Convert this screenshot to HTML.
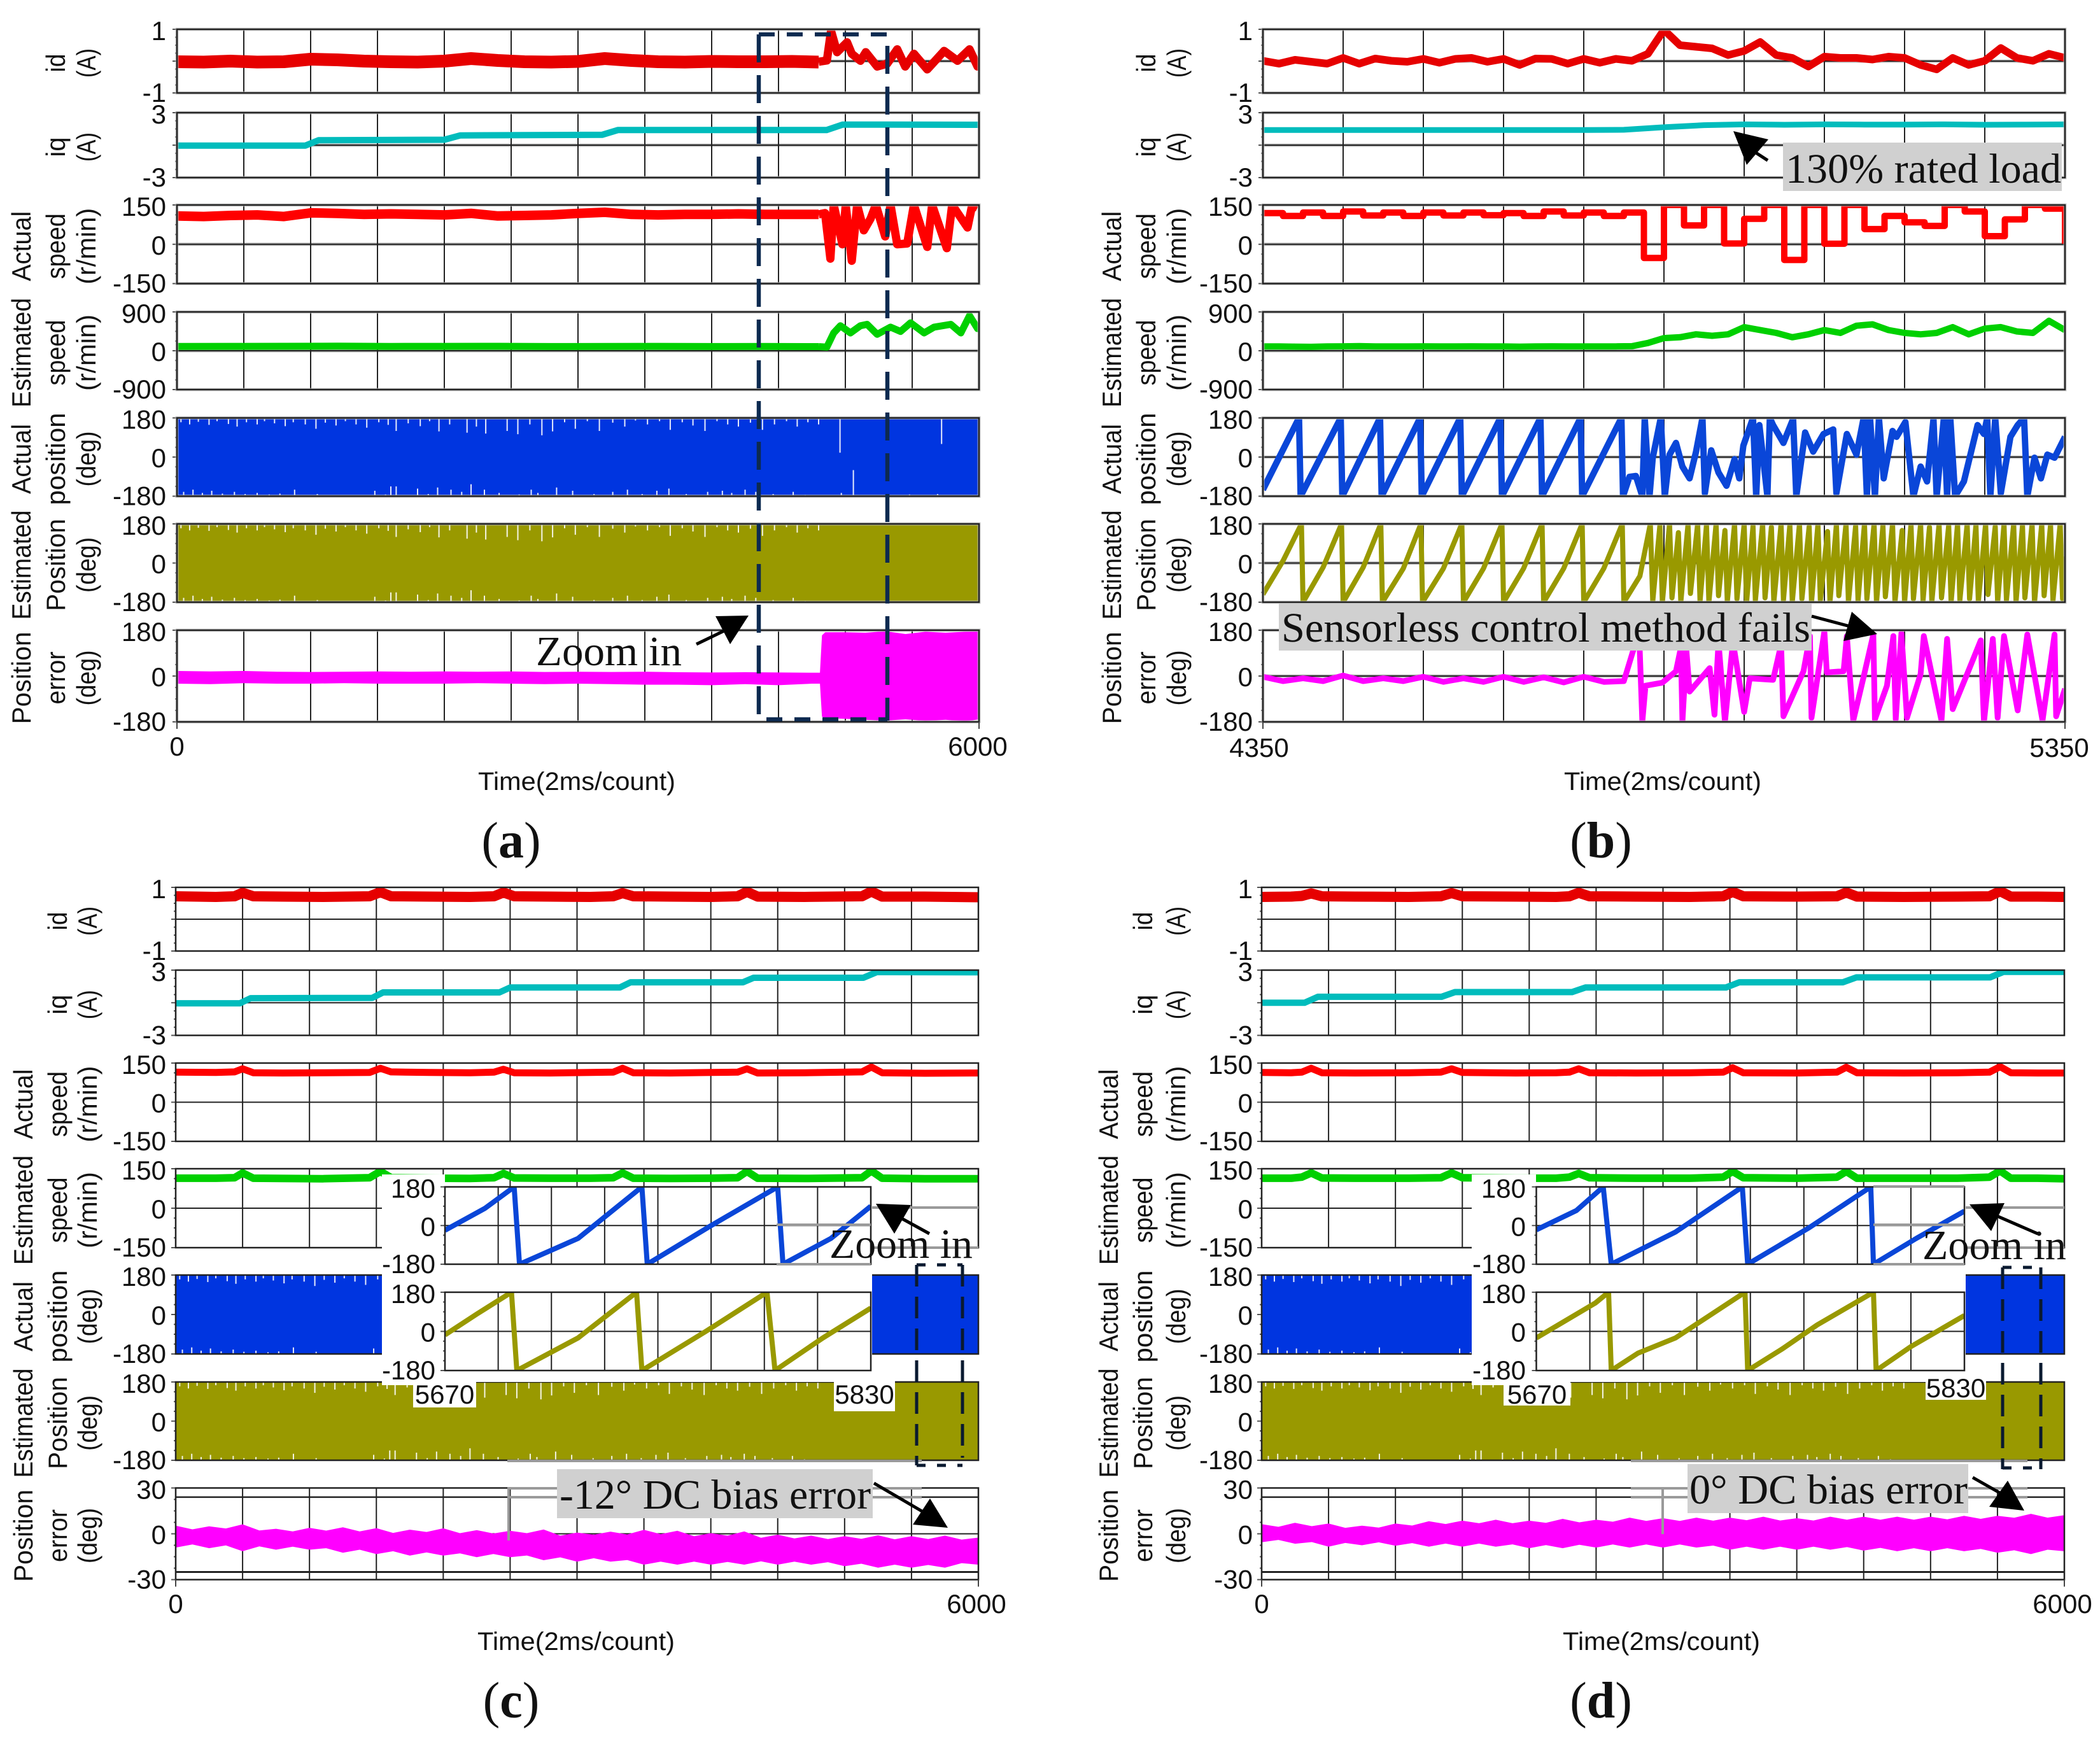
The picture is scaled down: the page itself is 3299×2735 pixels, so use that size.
<!DOCTYPE html>
<html lang="en">
<head>
<meta charset="utf-8">
<title>Sensorless control experimental waveforms</title>
<style>
html,body{margin:0;padding:0;background:#fff;}
svg{display:block;}
text{fill:#111;}
.sans{font-family:"Liberation Sans",sans-serif;}
.serif{font-family:"Liberation Serif",serif;}
</style>
</head>
<body>
<svg id="figure" xmlns="http://www.w3.org/2000/svg" width="3299" height="2735" viewBox="0 0 3299 2735">
<rect x="0" y="0" width="3299" height="2735" fill="#fff"/>
<defs id="clips"></defs>
<g id="plots"></g>

<g stroke="#9a9a9a" stroke-width="4" fill="none">
<path d="M797 2295H1448M797 2338H1448M797 2352H1448M799 2338V2420M1220 1924H1368M1220 1986H1368M1370 1897H1537M1370 1960H1537"/>
<path d="M2562 2295H3185M2562 2338H3185M2562 2352H3185M2612 2338V2410M2943 1924H3086M2943 1986H3086M2943 1864H3086M3088 1897H3243M3088 1960H3243"/>
</g>

<g stroke="#0d2a50" stroke-width="6.5" fill="none">
<line x1="1192" y1="54" x2="1394" y2="54" stroke-dasharray="25 19"/>
<line x1="1192" y1="54" x2="1192" y2="1130" stroke-dasharray="44 20"/>
<line x1="1394" y1="72" x2="1394" y2="1132" stroke-dasharray="44 20"/>
<line x1="1204" y1="1130" x2="1394" y2="1130" stroke-dasharray="25 19"/>
</g>
<g stroke="#0a1a30" stroke-width="5" fill="none">
<line x1="1440" y1="1987" x2="1512" y2="1987" stroke-dasharray="14 18"/>
<line x1="1440" y1="1987" x2="1440" y2="2302" stroke-dasharray="34 16"/>
<line x1="1512" y1="1987" x2="1512" y2="2290" stroke-dasharray="34 16"/>
<line x1="1440" y1="2302" x2="1512" y2="2302" stroke-dasharray="14 18"/>
</g>
<g stroke="#0a1a30" stroke-width="5" fill="none">
<line x1="3146" y1="1991" x2="3206" y2="1991" stroke-dasharray="14 18"/>
<line x1="3146" y1="1991" x2="3146" y2="2308" stroke-dasharray="34 16"/>
<line x1="3206" y1="1991" x2="3206" y2="2308" stroke-dasharray="34 16"/>
<line x1="3146" y1="2306" x2="3206" y2="2306" stroke-dasharray="14 18"/>
</g>

<g class="serif">
<rect x="2801" y="224" width="438" height="76" fill="#d0d0d0"/>
<text class="serif" x="2805" y="287" font-size="66" textLength="433" lengthAdjust="spacingAndGlyphs">130% rated load</text>
<rect x="2009" y="948" width="837" height="74" fill="#d0d0d0"/>
<text class="serif" x="2013" y="1008" font-size="66" textLength="831" lengthAdjust="spacingAndGlyphs">Sensorless control method fails</text>
<rect x="875" y="2308" width="496" height="77" fill="#d0d0d0"/>
<text class="serif" x="879" y="2370" font-size="66" textLength="489" lengthAdjust="spacingAndGlyphs">-12° DC bias error</text>
<rect x="2651" y="2300" width="441" height="77" fill="#d0d0d0"/>
<text class="serif" x="2654" y="2362" font-size="66" textLength="437" lengthAdjust="spacingAndGlyphs">0° DC bias error</text>
<text class="serif" x="842" y="1045" font-size="66" textLength="229" lengthAdjust="spacingAndGlyphs">Zoom in</text>
<text class="serif" x="1303" y="1976" font-size="66" textLength="225" lengthAdjust="spacingAndGlyphs">Zoom in</text>
<text class="serif" x="3020" y="1978" font-size="66" textLength="226" lengthAdjust="spacingAndGlyphs">Zoom in</text>
</g>

<g stroke="#000" stroke-width="5" fill="#000">
<g><line x1="1094" y1="1012" x2="1150" y2="985"/><polygon points="1176,967 1124,968 1147,1012" stroke="none"/></g>
<g><line x1="2777" y1="252" x2="2740" y2="228"/><polygon points="2723,206 2778,219 2744,259" stroke="none"/></g>
<g><line x1="2846" y1="968" x2="2910" y2="985"/><polygon points="2949,996 2909,961 2896,1007" stroke="none"/></g>
<g><line x1="1460" y1="1938" x2="1400" y2="1905"/><polygon points="1376,1891 1431,1893 1405,1938" stroke="none"/></g>
<g><line x1="1373" y1="2330" x2="1450" y2="2375"/><polygon points="1489,2400 1461,2354 1434,2395" stroke="none"/></g>
<g><line x1="3201" y1="1938" x2="3125" y2="1905"/><polygon points="3094,1892 3149,1890 3128,1934" stroke="none"/></g>
<g><line x1="3099" y1="2321" x2="3150" y2="2350"/><polygon points="3180,2373 3154,2326 3125,2367" stroke="none"/></g>
</g>

<g class="serif" font-size="80" text-anchor="middle">
<text class="serif" x="803" y="1347">(<tspan font-weight="bold">a</tspan>)</text>
<text class="serif" x="2515" y="1347">(<tspan font-weight="bold">b</tspan>)</text>
<text class="serif" x="803" y="2698">(<tspan font-weight="bold">c</tspan>)</text>
<text class="serif" x="2515" y="2698">(<tspan font-weight="bold">d</tspan>)</text>
</g>
</svg>

<script>
/* ---------- data: shared labels ---------- */
const stripWords = [["id","(A)"],["iq","(A)"],["Actual","speed","(r/min)"],["Estimated","speed","(r/min)"],["Actual","position","(deg)"],["Estimated","Position","(deg)"],["Position","error","(deg)"]];
const tickTextAB = [["1","-1"],["3","-3"],["150","0","-150"],["900","0","-900"],["180","0","-180"],["180","0","-180"],["180","0","-180"]];
const tickTextCD = [["1","-1"],["3","-3"],["150","0","-150"],["150","0","-150"],["180","0","-180"],["180","0","-180"],["30","0","-30"]];
const rangeAB = [1,3,150,900,180,180,180];
const rangeCD = [1,3,150,150,180,180,30];
const timeAxisTitle = "Time(2ms/count)";

/* ---------- data: panel a ---------- */
const aIdV = [-.02,-.03,0,-.03,-.02,.06,.04,0,-.02,-.03,0,.08,.02,-.02,-.03,-.01,.08,.02,-.02,-.03,-.01,-.02,-.02,-.01,-.03];
const aIdLoadT = [4800,4862,4893,4938,5013,5048,5113,5153,5238,5313,5388,5448,5513,5613,5739,5839,5929,5989,6000];
const aIdLoadV = [-.02,.02,.95,.28,.59,.23,.01,.28,-.17,-.08,.37,-.17,.23,-.26,.32,.01,.37,-.17,-.1];
const aIqT = [0,960,1060,2000,2120,3180,3300,4860,4980,6000];
const aIqV = [-.05,-.05,.45,.5,.9,.95,1.4,1.4,1.9,1.88];
const aSpeedV = [108,106,110,112,106,120,118,114,116,114,112,118,108,110,112,118,122,114,112,114,114,116,114,114,114];
const aSpeedLoadT = [4800,4848,4888,4913,4978,5003,5048,5088,5138,5188,5228,5298,5338,5388,5463,5513,5613,5649,5759,5799,5914,5949,5989];
const aSpeedLoadV = [114,119,-55,150,0,150,-63,150,53,97,150,30,150,0,3,150,-10,150,-15,150,64,150,140];
const aEstV = [100,102,104,106,100,102,104,98,100,102,98,100,96];
const aEstLoadT = [4800,4862,4913,4963,5038,5113,5163,5238,5338,5413,5488,5589,5664,5789,5864,5929,5989,6000];
const aEstLoadV = [96,85,413,580,413,580,613,380,547,447,647,413,547,613,413,813,513,560];
const aErrT = [0,250,500,750,1000,1250,1500,1750,2000,2250,2500,2750,3000,3250,3500,3750,4000,4250,4500,4750,4810,4825,4850,5000,5150,5300,5450,5600,5750,5900,6000];
const aErrHi = [20,18,20,17,16,17,18,17,18,17,18,16,17,16,17,15,14,15,14,13,13,160,172,172,170,176,165,174,170,174,176];
const aErrLo = [-30,-32,-28,-30,-30,-28,-30,-30,-30,-28,-30,-32,-30,-32,-34,-34,-36,-32,-36,-30,-30,-160,-165,-168,-172,-175,-170,-176,-172,-178,-170];

/* ---------- data: panel b ---------- */
const bIdV = [.01,-.08,.04,-.02,-.08,.1,-.08,.08,.01,-.02,.07,-.05,.07,.1,-.02,.07,-.12,.08,.07,-.08,.07,-.05,.07,.01,.23,.98,.5,.45,.4,.19,.32,.6,.19,.1,-.17,.14,.1,.1,.05,.14,.1,-.12,-.26,.1,-.12,.01,.41,.1,.01,.23,.1];
const bIqV = [1.4,1.4,1.4,1.4,1.4,1.4,1.4,1.4,1.4,1.42,1.65,1.85,1.92,1.88,1.92,1.9,1.9,1.92,1.88,1.9,1.92];
const bSpeedV = [119,108,121,108,125,110,121,108,121,110,121,111,119,108,125,110,121,108,121,-52,150,72,150,3,97,150,-60,150,2,150,58,108,84,70,150,125,31,95,150,136,2];
const bEstV = [100,100,95,90,100,102,108,100,100,100,102,100,100,102,100,100,95,100,102,100,100,100,100,105,180,293,313,380,347,380,547,480,413,313,380,480,413,580,613,480,413,380,413,547,380,513,547,447,413,693,480];
const bPosT = [4350,4395,4397,4447,4449,4496,4498,4546,4548,4596,4598,4646,4648,4696,4698,4746,4748,4797,4799,4807,4815,4823,4826,4832,4836,4846,4851,4857,4865,4873,4882,4890,4898,4901,4909,4918,4928,4938,4944,4949,4961,4965,4969,4979,4982,4986,4999,5011,5015,5026,5036,5049,5061,5065,5078,5090,5099,5103,5107,5113,5118,5124,5135,5140,5151,5161,5170,5178,5186,5190,5199,5203,5207,5213,5224,5241,5249,5253,5257,5263,5270,5282,5291,5299,5303,5312,5320,5328,5337,5350];
const bPosV = [-150,180,-180,180,-180,180,-180,180,-180,180,-180,180,-180,180,-180,180,-180,180,-180,-91,-87,-180,180,-180,-3,180,-180,11,65,-44,-98,25,180,-166,31,-71,-132,-10,-98,52,180,-180,147,-180,180,147,65,175,-180,113,25,106,127,-166,106,11,180,-180,180,-180,180,-98,120,93,161,-180,-44,-112,175,-180,180,-180,180,-180,-112,147,106,180,-180,180,-166,93,147,180,-180,-3,-98,11,-3,93];
const bEstRampT = [4350,4375,4398,4400,4425,4448,4450,4475,4497,4499,4525,4547,4549,4575,4598,4600,4625,4648,4650,4675,4698,4700,4725,4748,4750,4775,4798,4800,4820];
const bEstRampV = [-144,10,180,-180,-20,180,-180,-20,180,-180,-25,180,-180,-25,180,-180,-25,180,-180,-25,180,-180,-25,180,-180,-25,180,-180,-60];
const bEstPeakT = [4833,4845,4857,4868,4880,4892,4903,4915,4926,4938,4950,4961,4973,4984,4996,5007,5019,5031,5042,5054,5065,5077,5089,5100,5112,5123,5135,5147,5158,5170,5181,5193,5205,5216,5228,5239,5251,5263,5274,5286,5297,5309,5321,5332,5344];
const bEstPeakV = [180,175,180,140,178,180,175,180,150,180,178,170,180,165,180,175,180,168,180,145,178,180,170,180,180,172,180,150,178,180,165,180,172,180,180,175,180,168,178,180,172,180,180,175,180];
const bEstTroughV = [-175,-180,-160,-178,-140,-175,-180,-150,-178,-165,-180,-172,-160,-180,-170,-178,-165,-180,-170,-178,-150,-180,-172,-165,-180,-155,-178,-180,-165,-172,-178,-160,-180,-170,-165,-178,-145,-180,-170,-178,-160,-180,-150,-172,-165];
const bErrT = [4350,4375,4400,4425,4450,4475,4500,4525,4550,4575,4600,4625,4650,4675,4700,4725,4750,4775,4800,4819,4823,4827,4848,4865,4871,4873,4878,4882,4907,4913,4918,4926,4936,4950,4957,4986,4996,4999,5024,5032,5034,5050,5053,5074,5078,5086,5099,5111,5113,5128,5136,5139,5146,5153,5170,5174,5196,5203,5210,5228,5245,5249,5260,5266,5274,5291,5303,5322,5337,5339,5350];
const bErrV = [-3,-20,-9,-20,2,-20,-9,-20,-3,-23,-9,-23,-3,-23,-5,-25,-3,-23,-20,176,-180,-38,-26,19,111,-180,100,-61,31,-152,134,-180,134,-141,-9,-15,123,-158,19,157,-164,176,14,19,157,-175,-3,163,-170,-38,157,-170,168,-164,8,157,-175,146,-130,8,140,-180,146,-164,157,-135,163,-175,163,-158,-50];

/* ---------- data: panel c ---------- */
const cTimeT = [0,300,440,500,580,800,1100,1450,1530,1610,1900,2200,2380,2450,2530,2800,3100,3270,3340,3420,3700,4000,4200,4270,4350,4700,5130,5200,5280,5600,6000];
const cIdV = [.72,.70,.72,.83,.72,.71,.70,.72,.85,.72,.71,.70,.72,.84,.72,.71,.70,.72,.82,.72,.71,.70,.72,.86,.71,.70,.72,.87,.71,.71,.69];
const cIqT = [0,480,560,1470,1550,2420,2500,3320,3400,4240,4320,5140,5240,6000];
const cIqV = [-.05,-.05,.42,.45,.95,.95,1.4,1.4,1.88,1.88,2.3,2.3,2.82,2.8];
const cSpeedV = [115,114,116,128,113,112,113,114,130,116,114,113,115,126,113,112,114,115,130,113,112,114,115,128,112,113,116,135,113,111,112];
const cEstV = [114,114,116,134,114,113,112,116,140,116,114,113,116,132,115,114,114,116,134,114,113,114,116,140,114,113,116,142,114,112,112];
const cErrHi = [5.3,2.9,4.9,3.5,6.2,2.2,3.3,1.6,3.9,2.1,4.3,1.6,3.7,.6,2.7,1.2,3.6,.4,2.4,.2,2,.4,2.8,-1.2,.8,-.6,1.4,-.4,2.6,-.2,2,-1.6,.4,-1.2,1.6,-2.6,-.6,-3,-1.2,-3.4,-1.6,-3.3,-1,-3.6,-1.6,-3.4,-1.2,-3.8,-2.5];
const cErrLo = [-9,-7,-9.4,-7.6,-11.4,-8.2,-10.4,-8.4,-10.4,-9.4,-12.4,-10.4,-13.3,-11.4,-14.3,-12.2,-14.3,-12.8,-15.3,-13.2,-15.3,-14.2,-17.3,-15.4,-18.2,-16,-18.2,-17.2,-20.2,-18.2,-20.2,-18.2,-20.2,-18.4,-20.2,-18,-20.2,-18.2,-20.2,-18.6,-21.2,-19.6,-22.2,-20.2,-22.2,-20.4,-22.2,-19.2,-20.2];
const cInsetBlueT = [5670,5685,5696,5698,5720,5744,5746,5770,5795,5797,5815,5830];
const cInsetBlueV = [-22,80,180,-180,-60,180,-180,0,180,-180,-60,90];
const cInsetOliveT = [5670,5682,5695,5697,5720,5742,5744,5768,5791,5794,5812,5830];
const cInsetOliveV = [-16,80,180,-180,-30,180,-180,0,180,-180,-30,107];

/* ---------- data: panel d ---------- */
const dTimeT = [0,220,300,370,450,700,1100,1340,1420,1500,1900,2200,2300,2370,2450,2800,3200,3450,3520,3600,4000,4300,4370,4450,4800,5200,5440,5520,5600,5800,6000];
const dIdV = [.70,.71,.73,.81,.72,.71,.70,.72,.82,.72,.71,.70,.72,.83,.72,.71,.70,.72,.86,.72,.71,.72,.84,.71,.70,.71,.72,.88,.71,.71,.70];
const dIqT = [0,320,420,1345,1445,2320,2420,3470,3570,4345,4445,5445,5545,6000];
const dIqV = [0,0,.55,.55,.98,.98,1.4,1.4,1.88,1.88,2.33,2.33,2.84,2.84];
const dSpeedV = [114,113,115,130,113,112,113,115,128,114,112,113,115,128,113,112,113,115,132,113,112,115,134,113,112,113,115,136,113,112,112];
const dEstV = [114,114,118,134,115,114,114,116,134,116,114,114,118,132,116,114,114,118,140,116,114,118,140,114,114,114,118,142,114,114,112];
const dErrHi = [6.3,4.6,7.2,5,6.7,3.9,5.3,4.1,6.7,5.4,8.2,6.4,8.6,6.9,9.2,6.9,8.6,7.2,9.8,7.5,9.2,7.9,10.6,8.4,10.2,8.4,10.6,8.6,10.6,8.9,11.2,8.7,10.2,8.7,11.2,9.2,11.2,9.2,11.2,9.2,11.2,9.5,11.8,9.8,11.8,10.5,13.1,10.6,12.2];
const dErrLo = [-5.5,-4,-6.5,-5.4,-8.4,-6,-7.5,-5.6,-7.8,-6.1,-8.4,-6.4,-8.4,-6.4,-8.4,-6.9,-9.4,-7.4,-9.4,-7.2,-9,-7,-9,-7,-9,-7,-9,-7.7,-10.4,-8.4,-10.4,-8.4,-10.4,-8.4,-10.4,-8.7,-11,-9.2,-11.4,-9.4,-11.4,-9.4,-11.4,-9.9,-12.4,-10.8,-13.3,-10.4,-11.4];
const dInsetBlueT = [5670,5685,5695,5698,5722,5747,5749,5772,5795,5796,5812,5830];
const dInsetBlueV = [-20,70,180,-180,-30,180,-180,-10,180,-180,-60,67];
const dInsetOliveT = [5670,5692,5697,5698,5708,5722,5748,5749,5762,5775,5796,5797,5810,5830];
const dInsetOliveV = [-30,130,180,-180,-100,-30,180,-180,-80,30,180,-180,-70,73];

/* ---------- data: saturated position traces (envelope and visible gaps) ---------- */
const posEnvelopeHi = [180,180];
const posEnvelopeLo = [-180,-180];
const topGapT = [30,95,160,240,300,385,450,520,600,655,730,810,870,960,1040,1110,1190,1260,1340,1420,1510,1580,1640,1730,1820,1890,1960,2040,2170,2240,2310,2470,2550,2640,2730,2810,2900,2980,3070,3160,3260,3350,3430,3520,3610,3690,3780,3860,3950,4040,4120,4200,4290,4380,4470,4560,4640,4720,4800];
const topGapV = [160,150,162,148,165,152,140,160,150,165,155,142,160,150,130,158,145,165,150,135,160,148,120,155,142,165,118,150,112,140,108,120,105,150,100,118,160,130,165,120,158,140,168,150,165,125,160,145,120,165,150,140,158,125,150,165,140,160,150];
const bottomGapT = [50,120,190,260,340,430,510,600,690,770,880,1050,1480,1560,1600,1640,1800,1880,1950,2050,2130,2200,2300,2410,2560,2650,2700,2840,2960,3120,3260,3370,3480,3590,3680,3810,3970,4080,4150,4250,4330,4460,4610,4700];
const bottomGapV = [-160,-150,-165,-155,-168,-160,-170,-165,-172,-168,-150,-170,-155,-172,-135,-135,-145,-170,-140,-150,-160,-125,-150,-165,-172,-150,-165,-140,-155,-170,-160,-150,-170,-155,-145,-170,-160,-155,-165,-150,-160,-170,-160,-175];
const aLoadGapT = [4960,5720];
const aLoadGapV = [20,60];
const aLoadBottomT = [5060,4970,5480,5690];
const aLoadBottomV = [-60,-165,-172,-170];

/* ---------- inset and axis text ---------- */
const insetTickText = ["180","0","-180"];
const insetTimeText = ["5670","5830"];
const xEndTextA = ["0","6000"];
const xEndTextB = ["4350","5350"];
const wordLength = {"id":29,"iq":31,"(A)":46,"Actual":110,"speed":103,"(r/min)":120,"Estimated":172,"position":145,"Position":145,"(deg)":87,"error":83};

/* ---------- layout (not data) ---------- */
const rowsAB = [[46,146],[177,279],[322,445.5],[490,612],[656.5,779.5],[823,946],[990,1134]];
const rowsCD = [[1394,1494],[1524,1626.5],[1670,1793],[1836,1960],[2003,2127],[2171,2294],[2337.5,2481.5]];
const SVGNS = "http://www.w3.org/2000/svg";
const plots = document.getElementById("plots");
const clipHost = document.getElementById("clips");
const colors = {red:"#e60000",bright:"#ff0000",teal:"#00bcbc",green:"#00d000",blue:"#0035e0",line:"#0a46d8",olive:"#999900",pink:"#ff00ff"};

function make(parent, tag, name, attrs, text){
  const el = document.createElementNS(SVGNS, tag);
  
  
  for (const k in attrs) el.setAttribute(k, attrs[k]);
  if (text !== undefined) el.textContent = text;
  parent.appendChild(el);
  return el;
}
function seq(start, step, count){ const out=[]; for(let i=0;i<count;i++) out.push(start+i*step); return out; }
function xScale(p, t){ return p.x0 + (t-p.dom[0])/(p.dom[1]-p.dom[0])*(p.x1-p.x0); }
function yScale(p, row, v){ const r=p.rows[row], m=p.range[row]; return r[0] + (m-v)/(2*m)*(r[1]-r[0]); }

function trace(p, row, t, v, color, width, name){
  const pts=[]; const n=Math.min(t.length,v.length);
  for(let i=0;i<n;i++) pts.push(xScale(p,t[i]).toFixed(1)+","+yScale(p,row,v[i]).toFixed(1));
  make(p.g, "polyline", p.key+"-"+name, {points:pts.join(" "),fill:"none",stroke:color,"stroke-width":width,"stroke-linejoin":"round","stroke-linecap":"butt","clip-path":"url(#"+p.key+"-clip-"+row+")"});
}
function band(p, row, t, hi, lo, color, name){
  const pts=[]; const n=Math.min(t.length,hi.length,lo.length);
  for(let i=0;i<n;i++) pts.push(xScale(p,t[i]).toFixed(1)+","+yScale(p,row,hi[i]).toFixed(1));
  for(let i=n-1;i>=0;i--) pts.push(xScale(p,t[i]).toFixed(1)+","+yScale(p,row,lo[i]).toFixed(1));
  make(p.g, "polygon", p.key+"-"+name, {points:pts.join(" "),fill:color,"clip-path":"url(#"+p.key+"-clip-"+row+")"});
}
function gaps(p, row, t, v, edge, name, limit){
  const n=Math.min(t.length,v.length);
  for(let i=0;i<n;i++){
    if(limit!==undefined && t[i]>limit) continue;
    const x=xScale(p,t[i]);
    make(p.g, "line", p.key+"-"+name, {x1:x,x2:x,y1:yScale(p,row,edge),y2:yScale(p,row,v[i]),stroke:"#fff","stroke-width":2,"stroke-opacity":.9});
  }
}
function gridAndTicks(p, row, divisions, halo){
  const r=p.rows[row];
  const c=make(clipHost,"clipPath",p.key+"-clip-"+row+"-def",{id:p.key+"-clip-"+row});
  make(c,"rect","clip-rect",{x:p.x0,y:r[0],width:p.x1-p.x0,height:r[1]-r[0]});
  const y0=yScale(p,row,0);
  if(halo) make(p.g,"line",p.key+"-zero-halo-"+row,{x1:p.x0,x2:p.x1,y1:y0,y2:y0,stroke:"#b5b5b5","stroke-width":5});
  make(p.g,"line",p.key+"-zero-line-"+row,{x1:p.x0,x2:p.x1,y1:y0,y2:y0,stroke:"#222","stroke-width":2});
  for(let i=1;i<divisions;i++){
    const x=p.x0+(p.x1-p.x0)*i/divisions;
    make(p.g,"line",p.key+"-gridline-"+row+"-"+i,{x1:x,x2:x,y1:r[0],y2:r[1],stroke:"#222","stroke-width":2});
  }
  for(let i=0;i<=8;i++){
    const y=r[0]+(r[1]-r[0])*i/8;
    make(p.g,"line",p.key+"-minor-tick-"+row+"-"+i,{x1:p.x0-(i%4===0?7:3),x2:p.x0,y1:y,y2:y,stroke:"#555","stroke-width":2});
  }
}
function frame(p, row, halo){
  const r=p.rows[row];
  const w=p.x1-p.x0, h=r[1]-r[0];
  if(halo) make(p.g,"rect",p.key+"-frame-halo-"+row,{x:p.x0,y:r[0],width:w,height:h,fill:"none",stroke:"#b5b5b5","stroke-width":5,"stroke-opacity":.7});
  make(p.g,"rect",p.key+"-frame-"+row,{x:p.x0,y:r[0],width:w,height:h,fill:"none",stroke:"#222","stroke-width":2.5});
}
function yTickLabels(p, row, texts, labelX){
  const r=p.rows[row];
  const ys = texts.length===3 ? [r[0]+17, yScale(p,row,0)+16, r[1]+14] : [r[0]+17, r[1]+14];
  texts.forEach((s,i)=>{
    make(p.g,"text",p.key+"-y-tick-"+row+"-"+i,{x:labelX,y:ys[i],"font-size":42,"text-anchor":"end","class":"sans"},s);
  });
}
function yTitle(p, row, words, cols){
  const r=p.rows[row];
  const cy=(r[0]+r[1])/2+3;
  const use = words.length===2 ? [cols[1],cols[2]] : cols;
  words.forEach((w,i)=>{
    make(p.g,"text",p.key+"-y-title-"+row+"-"+i,{transform:"translate("+use[i]+","+cy+") rotate(-90)","font-size":42,"text-anchor":"middle",textLength:wordLength[w],lengthAdjust:"spacingAndGlyphs","class":"sans"},w);
  });
}
function xAxis(p, texts, tickCenters, baseline, titleX, titleY){
  const bot=p.rows[6][1];
  [p.x0,p.x1].forEach((x,i)=>{
    make(p.g,"line",p.key+"-x-tick-mark-"+i,{x1:x,x2:x,y1:bot,y2:bot+11,stroke:"#444","stroke-width":2});
  });
  texts.forEach((s,i)=>{
    make(p.g,"text",p.key+"-x-tick-"+i,{x:tickCenters[i],y:baseline,"font-size":42,"text-anchor":"middle","class":"sans"},s);
  });
  make(p.g,"text",p.key+"-x-axis-title",{x:titleX,y:titleY,"font-size":40,"text-anchor":"middle",textLength:310,lengthAdjust:"spacingAndGlyphs","class":"sans"},timeAxisTitle);
}
function newPanel(key, x0, x1, dom, rows, range){
  const g=make(plots,"g","panel-"+key,{});
  return {key,x0,x1,dom,rows,range,g};
}

/* ---------- panel a ---------- */
(function(){
  const p=newPanel("a",278,1538,[0,6000],rowsAB,rangeAB);
  for(let i=0;i<7;i++) gridAndTicks(p,i,12,true);
  trace(p,0,seq(0,200,aIdV.length),aIdV,colors.red,20,"id-trace");
  trace(p,0,aIdLoadT,aIdLoadV,colors.red,13,"id-trace-loaded");
  trace(p,1,aIqT,aIqV,colors.teal,10,"iq-trace");
  trace(p,2,seq(0,200,aSpeedV.length),aSpeedV,colors.bright,15,"actual-speed-trace");
  trace(p,2,aSpeedLoadT,aSpeedLoadV,colors.bright,13,"actual-speed-trace-loaded");
  trace(p,3,seq(0,400,aEstV.length),aEstV,colors.green,11,"estimated-speed-trace");
  trace(p,3,aEstLoadT,aEstLoadV,colors.green,11,"estimated-speed-trace-loaded");
  band(p,4,p.dom,posEnvelopeHi,posEnvelopeLo,colors.blue,"actual-position-fill");
  gaps(p,4,topGapT,topGapV,180,"actual-position-gap-top");
  gaps(p,4,bottomGapT,bottomGapV,-180,"actual-position-gap-bottom");
  gaps(p,4,aLoadGapT,aLoadGapV,180,"actual-position-gap-loaded");
  gaps(p,4,aLoadBottomT,aLoadBottomV,-180,"actual-position-gap-loaded-bottom");
  band(p,5,p.dom,posEnvelopeHi,posEnvelopeLo,colors.olive,"estimated-position-fill");
  gaps(p,5,topGapT,topGapV,180,"estimated-position-gap-top");
  gaps(p,5,bottomGapT,bottomGapV,-180,"estimated-position-gap-bottom");
  band(p,6,aErrT,aErrHi,aErrLo,colors.pink,"position-error-band");
  for(let i=0;i<7;i++){
    frame(p,i,true);
    yTickLabels(p,i,tickTextAB[i],261);
    yTitle(p,i,stripWords[i],[48,102,150]);
  }
  xAxis(p,xEndTextA,[278,1536],1187,906,1241);
})();

/* ---------- panel b ---------- */
(function(){
  const p=newPanel("b",1984,3244,[4350,5350],rowsAB,rangeAB);
  for(let i=0;i<7;i++) gridAndTicks(p,i,10,true);
  trace(p,0,seq(4350,20,bIdV.length),bIdV,colors.red,12,"id-trace");
  trace(p,1,seq(4350,50,bIqV.length),bIqV,colors.teal,9,"iq-trace");
  const st=[], sv=[];
  bSpeedV.forEach((v,i)=>{ st.push(4350+25*i, Math.min(5350,4350+25*(i+1))); sv.push(v,v); });
  trace(p,2,st,sv,colors.bright,10,"actual-speed-trace");
  trace(p,3,seq(4350,20,bEstV.length),bEstV,colors.green,10,"estimated-speed-trace");
  trace(p,4,bPosT,bPosV,colors.line,10,"actual-position-trace");
  const et=bEstRampT.slice(), ev=bEstRampV.slice();
  bEstPeakT.forEach((t,i)=>{ et.push(t,t+3); ev.push(bEstPeakV[i],bEstTroughV[i]); });
  et.push(5350); ev.push(30);
  trace(p,5,et,ev,colors.olive,8,"estimated-position-trace");
  trace(p,6,bErrT,bErrV,colors.pink,9,"position-error-trace");
  for(let i=0;i<7;i++){
    frame(p,i,true);
    yTickLabels(p,i,tickTextAB[i],1968);
    yTitle(p,i,stripWords[i],[1761,1815,1863]);
  }
  xAxis(p,xEndTextB,[1978,3235],1189,2612,1241);
})();

/* ---------- panels c and d ---------- */
function lowerPanel(key,x0,x1,d,labelX,cols,titleX,tickCenters,mask,inset,blank){
  const p=newPanel(key,x0,x1,[0,6000],rowsCD,rangeCD);
  for(let i=0;i<7;i++) gridAndTicks(p,i,12,false);
  trace(p,0,d.t,d.id,colors.red,16,"id-trace");
  trace(p,1,d.iqT,d.iqV,colors.teal,10,"iq-trace");
  trace(p,2,d.t,d.speed,colors.bright,11,"actual-speed-trace");
  trace(p,3,d.t,d.est,colors.green,12,"estimated-speed-trace");
  band(p,4,p.dom,posEnvelopeHi,posEnvelopeLo,colors.blue,"actual-position-fill");
  gaps(p,4,topGapT,topGapV,180,"actual-position-gap-top");
  gaps(p,4,bottomGapT,bottomGapV,-180,"actual-position-gap-bottom");
  band(p,5,p.dom,posEnvelopeHi,posEnvelopeLo,colors.olive,"estimated-position-fill");
  gaps(p,5,topGapT,topGapV,180,"estimated-position-gap-top");
  gaps(p,5,bottomGapT,bottomGapV,-180,"estimated-position-gap-bottom");
  band(p,6,seq(0,125,d.hi.length),d.hi,d.lo,colors.pink,"position-error-band");
  const h1=yScale(p,6,24), h2=yScale(p,6,-25);
  make(p.g,"line",key+"-error-upper-line",{x1:x0,x2:x1,y1:h1,y2:h1,stroke:"#222","stroke-width":2.5});
  make(p.g,"line",key+"-error-lower-line",{x1:x0,x2:x1,y1:h2,y2:h2,stroke:"#222","stroke-width":3});
  for(let i=0;i<7;i++){
    frame(p,i,false);
    yTickLabels(p,i,tickTextCD[i],labelX);
    yTitle(p,i,stripWords[i],cols);
  }
  xAxis(p,xEndTextA,tickCenters,2534,titleX,2592);

  /* white area behind the insets */
  make(p.g,"rect",key+"-inset-mask-left",{x:mask.a,y:1845,width:mask.b-mask.a,height:330,fill:"#fff"});
  make(p.g,"rect",key+"-inset-mask",{x:mask.a,y:1864,width:mask.c-mask.a,height:307,fill:"#fff"});

  /* insets */
  const q={key:key+"-inset",x0:inset.x0,x1:inset.x1,dom:[5670,5830],rows:[[1864.5,1986],[2030,2153]],range:[180,180],g:p.g};
  for(let i=0;i<2;i++){
    gridAndTicks(q,i,8,false);
  }
  trace(q,0,d.blueT,d.blueV,colors.line,8,"actual-position-trace");
  trace(q,1,d.oliveT,d.oliveV,colors.olive,8,"estimated-position-trace");
  for(let i=0;i<2;i++){
    frame(q,i,false);
    yTickLabels(q,i,insetTickText,inset.labelX);
  }
  /* time labels on white chips */
  make(p.g,"rect",key+"-inset-notch",{x:mask.a,y:2169,width:blank.t1x-mask.a,height:7,fill:"#fff"});
  make(p.g,"rect",key+"-start-label-chip",{x:blank.t1x,y:2169,width:blank.t1w,height:blank.t1h,fill:"#fff"});
  make(p.g,"text",key+"-inset-start-label",{x:blank.t1x+blank.t1w/2,y:2190+15,"font-size":42,"text-anchor":"middle","class":"sans"},insetTimeText[0]);
  make(p.g,"rect",key+"-end-label-chip",{x:blank.t2x,y:2169,width:blank.t2w,height:blank.t2h,fill:"#fff"});
  make(p.g,"text",key+"-inset-end-label",{x:blank.t2x+blank.t2w/2,y:blank.t2y,"font-size":42,"text-anchor":"middle","class":"sans"},insetTimeText[1]);
}
lowerPanel("c",276,1537,
  {t:cTimeT,id:cIdV,iqT:cIqT,iqV:cIqV,speed:cSpeedV,est:cEstV,hi:cErrHi,lo:cErrLo,blueT:cInsetBlueT,blueV:cInsetBlueV,oliveT:cInsetOliveT,oliveV:cInsetOliveV},
  261,[51,105,152],905,[276,1534],
  {a:600,b:699,c:1370},{x0:699,x1:1368,labelX:684},
  {t1x:649,t1w:99,t1h:42,t2x:1310,t2w:96,t2h:48,t2y:2205});
lowerPanel("d",1982,3243,
  {t:dTimeT,id:dIdV,iqT:dIqT,iqV:dIqV,speed:dSpeedV,est:dEstV,hi:dErrHi,lo:dErrLo,blueT:dInsetBlueT,blueV:dInsetBlueV,oliveT:dInsetOliveT,oliveV:dInsetOliveV},
  1968,[1756,1810,1862],2610,[1982,3240],
  {a:2312,b:2413,c:3088},{x0:2413.5,x1:3086,labelX:2397},
  {t1x:2362,t1w:105,t1h:39,t2x:3025,t2w:95,t2h:30,t2y:2195});
</script>
</body>
</html>
